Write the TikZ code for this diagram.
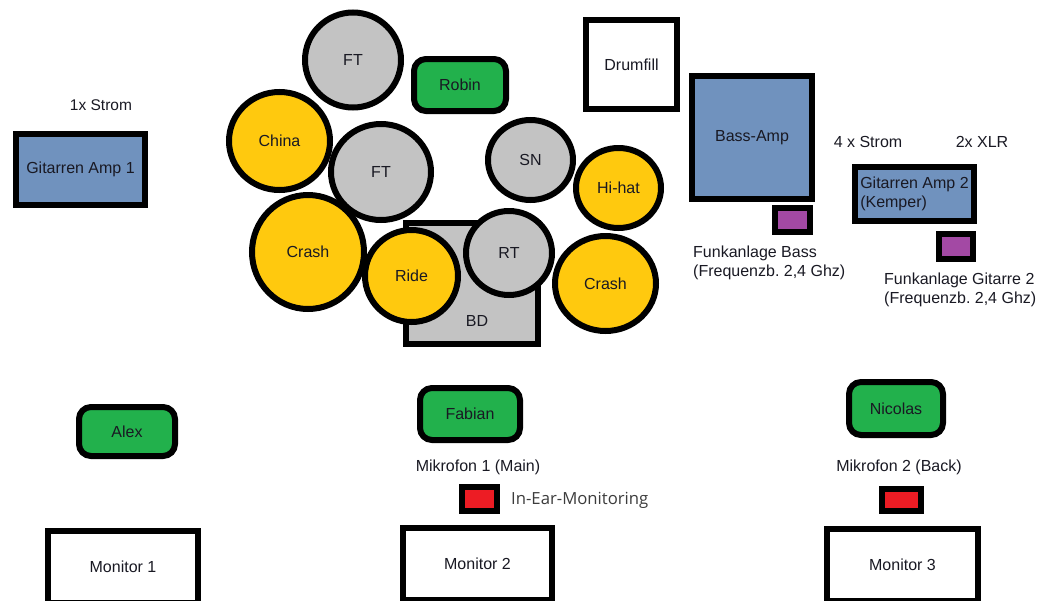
\documentclass[tikz,border=0pt]{standalone}
\usepackage{fontspec}
\setmainfont{Liberation Sans}
\newfontfamily\segoe{Open Sans}
\usetikzlibrary{shapes.geometric}
\frenchspacing
\definecolor{cDrum}{RGB}{195,195,195}
\definecolor{cCym}{RGB}{255,201,14}
\definecolor{cPerson}{RGB}{34,177,76}
\definecolor{cAmp}{RGB}{112,146,190}
\definecolor{cFunk}{RGB}{163,73,164}
\definecolor{cIem}{RGB}{237,28,36}
\definecolor{cTxt}{RGB}{25,25,35}
\definecolor{cIemTxt}{RGB}{60,60,60}
\begin{document}
\begin{tikzpicture}[x=1pt,y=-1pt,
 every node/.style={text=cTxt, font=\fontsize{16}{19}\selectfont, inner sep=0pt},
 outl/.style={draw=black, line width=6pt},
 drum/.style 2 args={ellipse, outl, fill=cDrum, minimum width=#1, minimum height=#2},
 cym/.style 2 args={ellipse, outl, fill=cCym, minimum width=#1, minimum height=#2},
 box/.style 2 args={rectangle, outl, fill=white, minimum width=#1, minimum height=#2},
 amp/.style 2 args={box={#1}{#2}, fill=cAmp},
 funkbox/.style 2 args={box={#1}{#2}, fill=cFunk},
 iembox/.style 2 args={box={#1}{#2}, fill=cIem},
 player/.style 2 args={box={#1}{#2}, rounded corners=12pt, fill=cPerson},
 small/.style={font=\fontsize{15.5}{18}\selectfont},
 note/.style={align=left, anchor=west},
]
\useasboundingbox (0,0) rectangle (1039,600);
\clip (0,0) rectangle (1039,600);

% drum kit
\node[box={132}{121}, fill=cDrum] (bd) at (472,283.5) {};
\node[drum={96}{95}] (ft1) at (353,60) {FT};
\node[cym={101}{98}] (china) at (279.5,141) {China};
\node[drum={100}{96}] (ft2) at (381,172) {FT};
\node[cym={112}{114}] (crashL) at (308,252) {Crash};
\node[drum={85}{80}] (sn) at (530.5,160) {SN};
\node[cym={85}{80}] (hihat) at (618.5,188) {Hi-hat};
\node[drum={86}{84}] (rt) at (509,253) {RT};
\node[cym={93}{92}] (ride) at (411.5,276) {Ride};
\node[cym={101}{95}] (crashR) at (605.5,283.5) {Crash};
\node (bdlabel) at (477,321) {BD};

\node[player={92}{52}] (robin) at (460,85) {Robin};
\node[box={91}{89}] (drumfill) at (631.5,64.5) {Drumfill};

% guitar 1
\node[small] (strom1) at (101,105) {1x Strom};
\node[amp={129}{71}] (amp1) at (80.5,169) {Gitarren Amp 1};

% bass
\node[amp={120}{123}] (bassamp) at (752,137.5) {Bass-Amp};
\node[funkbox={35}{24}] (funkbass) at (792.5,220) {};
\node[note] (funkbassT) at (693,263) {Funkanlage Bass\\(Frequenzb. 2,4 Ghz)};

% guitar 2
\node (strom4) at (868,142) {4 x Strom};
\node (xlr) at (982,142) {2x XLR};
\node[amp={119}{54}, align=left] (amp2) at (914.5,194) {Gitarren Amp 2\\(Kemper)};
\node[funkbox={34}{25}] (funkgit) at (956,246.5) {};
\node[note] (funkgitT) at (884,290) {Funkanlage Gitarre 2\\(Frequenzb. 2,4 Ghz)};

% front line
\node[player={96}{49}] (alex) at (127,431.5) {Alex};
\node[player={100}{52}] (fabian) at (470,414) {Fabian};
\node[player={94}{53}] (nicolas) at (896,408.5) {Nicolas};

\node (mic1) at (478,467) {Mikrofon 1 (Main)};
\node (mic2) at (899,467) {Mikrofon 2 (Back)};

\node[iembox={35}{24}] (iem1) at (479.5,499) {};
\node[note, text=cIemTxt, font=\segoe\fontsize{16.7}{20}\selectfont] (iemT) at (511,500) {In-Ear-Monitoring};
\node[iembox={39}{22}] (iem2) at (901.5,500) {};

\node[box={150}{72}] (mon1) at (123,567) {Monitor 1};
\node[box={149}{72}] (mon2) at (477.5,564) {Monitor 2};
\node[box={151}{72}] (mon3) at (902.5,565) {Monitor 3};
\end{tikzpicture}
\end{document}
